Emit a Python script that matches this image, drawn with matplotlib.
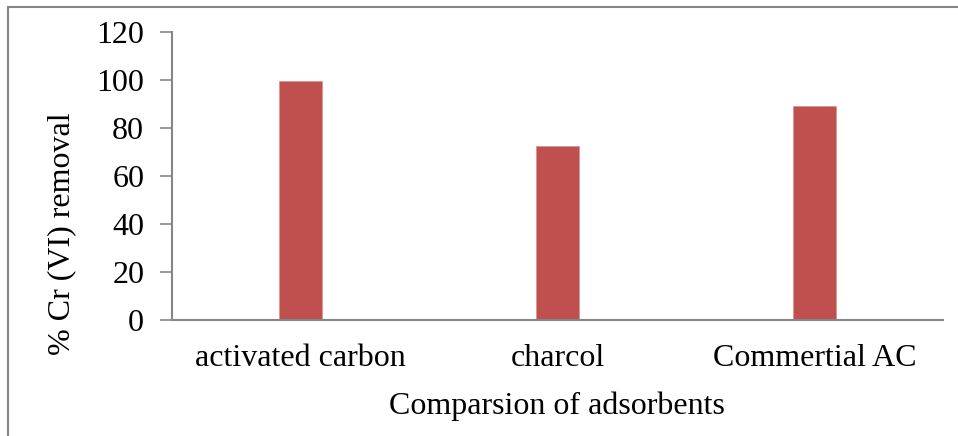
import matplotlib as mpl
import matplotlib.pyplot as plt
from matplotlib.patches import Rectangle

mpl.use("Agg")

# Cr(VI) removal for each adsorbent
adsorbents = ["activated carbon", "charcol", "Commertial AC"]
removal = [99.5, 72.3, 89.2]
yticks = [0, 20, 40, 60, 80, 100, 120]

bar_color = "#C0504D"
axis_color = "#868686"

plt.rcParams["font.family"] = ["Liberation Serif", "DejaVu Serif"]

W, H = 958, 436
fig = plt.figure(figsize=(W / 100, H / 100), dpi=100)
ax = fig.add_axes([172 / W, 1 - 320 / H, 771 / W, 288 / H])

x = range(len(adsorbents))
ax.bar(x, removal, width=0.167, color=bar_color, edgecolor="#D99694", linewidth=0.6)

ax.set_xlim(-0.5, len(adsorbents) - 0.5)
ax.set_ylim(0, 120)
ax.set_yticks(yticks)
ax.set_xticks(list(x))
ax.set_xticklabels(adsorbents)

for side in ["top", "right"]:
    ax.spines[side].set_visible(False)
for side in ["left", "bottom"]:
    ax.spines[side].set_color(axis_color)
    ax.spines[side].set_linewidth(1.5)

ax.tick_params(axis="y", length=9, width=1.2, color=axis_color, labelsize=23, pad=11)
ax.tick_params(axis="x", length=0, labelsize=23, pad=17)

fig.text(62 / W, 1 - 234 / H, "% Cr (VI) removal", rotation=90, ha="center", va="center", fontsize=23)
fig.text(557 / W, 1 - 406 / H, "Comparsion of adsorbents", ha="center", va="center", fontsize=23)

# chart frame, clipped on the right and bottom
frame = Rectangle((8 / W, -0.1), 1.2, 1 - 7 / H + 0.1, transform=fig.transFigure,
                  fill=False, edgecolor=axis_color, linewidth=1.5, clip_on=False)
fig.add_artist(frame)

fig.savefig("out.png", dpi=100, facecolor="white")
